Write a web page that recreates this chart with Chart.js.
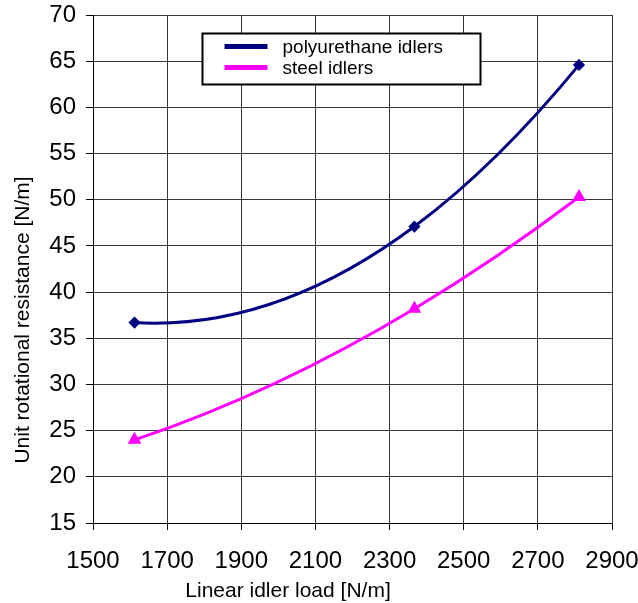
<!DOCTYPE html>
<html>
<head>
<meta charset="utf-8">
<script src="https://cdn.jsdelivr.net/npm/chart.js@4"></script>
<style>
  html, body { margin: 0; padding: 0; background: #fff; }
  #wrap { width: 638px; height: 603px; }
</style>
</head>
<body>
<div id="wrap"><canvas id="myChart" width="638" height="603"></canvas></div>
<script>
// values
const idlerLoad = [1612, 2367, 2811];
const polyurethane = [36.7, 47.1, 64.6];
const steel = [24.0, 38.2, 50.3];
const seriesNames = ['polyurethane idlers', 'steel idlers'];
const xTitle = 'Linear idler load [N/m]';
const yTitle = 'Unit rotational resistance [N/m]';

const FONT = '"Liberation Sans", Arial, sans-serif';

function toPoints(xs, ys) {
    return xs.map((x, i) => ({ x: x, y: ys[i] }));
}

// excel style smoothing: tangents from the parabola through neighbouring points
// (chart.js aims the end tangents straight at the next point, excel does not)
const smoothing = {
    id: 'smoothing',
    beforeDatasetDraw(chart, args) {
        const line = args.meta.dataset;
        const pts = args.meta.data;
        const n = pts.length;
        if (n < 3) return;
        const h = [], d = [];
        for (let i = 0; i < n - 1; i++) {
            h.push(pts[i + 1].x - pts[i].x);
            d.push((pts[i + 1].y - pts[i].y) / h[i]);
        }
        const m = [];
        for (let i = 0; i < n; i++) {
            if (i === 0) m.push(d[0] - (d[1] - d[0]) * h[0] / (h[0] + h[1]));
            else if (i === n - 1) m.push(d[i - 1] + (d[i - 1] - d[i - 2]) * h[i - 1] / (h[i - 2] + h[i - 1]));
            else m.push((d[i - 1] * h[i] + d[i] * h[i - 1]) / (h[i - 1] + h[i]));
        }
        pts.forEach((p, i) => {
            const hp = i > 0 ? h[i - 1] : 0;
            const hn = i < n - 1 ? h[i] : 0;
            p.cp1x = p.x - hp / 3;
            p.cp1y = p.y - m[i] * hp / 3;
            p.cp2x = p.x + hn / 3;
            p.cp2y = p.y + m[i] * hn / 3;
        });
        line._pointsUpdated = true;
        line._path = undefined;
    }
};

// legend box and axis titles, drawn like the excel chart
const extras = {
    id: 'extras',
    afterDraw(chart) {
        const c = chart.ctx;
        const area = chart.chartArea;
        c.save();

        // axis titles
        c.fillStyle = '#000';
        c.font = '21px ' + FONT;
        c.textAlign = 'center';
        c.textBaseline = 'middle';
        c.fillText(xTitle, area.left + 195, area.bottom + 68);
        c.translate(23, area.top + 305);
        c.rotate(-Math.PI / 2);
        c.fillText(yTitle, 0, 0);
        c.setTransform(1, 0, 0, 1, 0, 0);

        // legend
        const bx = area.left + 109.5, by = area.top + 18.5, bw = 278, bh = 51;
        c.fillStyle = '#fff';
        c.fillRect(bx, by, bw, bh);
        c.strokeStyle = '#000';
        c.lineWidth = 2;
        c.strokeRect(bx, by, bw, bh);
        c.font = '19px ' + FONT;
        c.textAlign = 'left';
        chart.data.datasets.forEach((ds, i) => {
            const y = by + 13 + i * 21;
            c.strokeStyle = ds.borderColor;
            c.lineWidth = 5;
            c.beginPath();
            c.moveTo(bx + 22, y);
            c.lineTo(bx + 65, y);
            c.stroke();
            c.fillStyle = '#000';
            c.fillText(ds.label, bx + 80, y + 1);
        });
        c.restore();
    }
};

function noPad(s) {
    s.paddingLeft = 0;
    s.paddingRight = 0;
    s.paddingTop = 0;
    s.paddingBottom = 0;
}

const ctx = document.getElementById('myChart').getContext('2d');
const myChart = new Chart(ctx, {
    type: 'line',
    data: {
        datasets: [
            {
                label: seriesNames[0],
                data: toPoints(idlerLoad, polyurethane),
                borderColor: '#000080',
                backgroundColor: '#000080',
                borderWidth: 3,
                pointStyle: 'rectRot',
                pointRadius: 4,
                tension: 0.4,
            },
            {
                label: seriesNames[1],
                data: toPoints(idlerLoad, steel),
                borderColor: '#ff00ff',
                backgroundColor: '#ff00ff',
                borderWidth: 3,
                pointStyle: 'triangle',
                pointRadius: 5,
                tension: 0.4,
            },
        ],
    },
    options: {
        responsive: false,
        animation: false,
        layout: { padding: { left: 0, top: 15, right: 26, bottom: 0 } },
        plugins: {
            legend: { display: false },
            tooltip: { enabled: false },
        },
        scales: {
            x: {
                type: 'linear',
                min: 1500,
                max: 2900,
                ticks: {
                    stepSize: 200,
                    color: '#000',
                    font: { family: FONT, size: 24 },
                    padding: 17,
                    maxRotation: 0,
                    callback: v => String(v),
                },
                grid: { color: '#383838', lineWidth: 1, tickLength: 7, tickColor: '#000' },
                border: { color: '#000', width: 1 },
                afterFit: s => { s.height = 80; noPad(s); },
            },
            y: {
                type: 'linear',
                min: 15,
                max: 70,
                ticks: {
                    stepSize: 5,
                    color: '#000',
                    font: { family: FONT, size: 24 },
                    padding: 10,
                    callback: v => String(v),
                },
                grid: { color: '#383838', lineWidth: 1, tickLength: 7, tickColor: '#000' },
                border: { color: '#000', width: 1 },
                afterFit: s => { s.width = 93; noPad(s); },
            },
        },
    },
    plugins: [smoothing, extras],
});
</script>
</body>
</html>
